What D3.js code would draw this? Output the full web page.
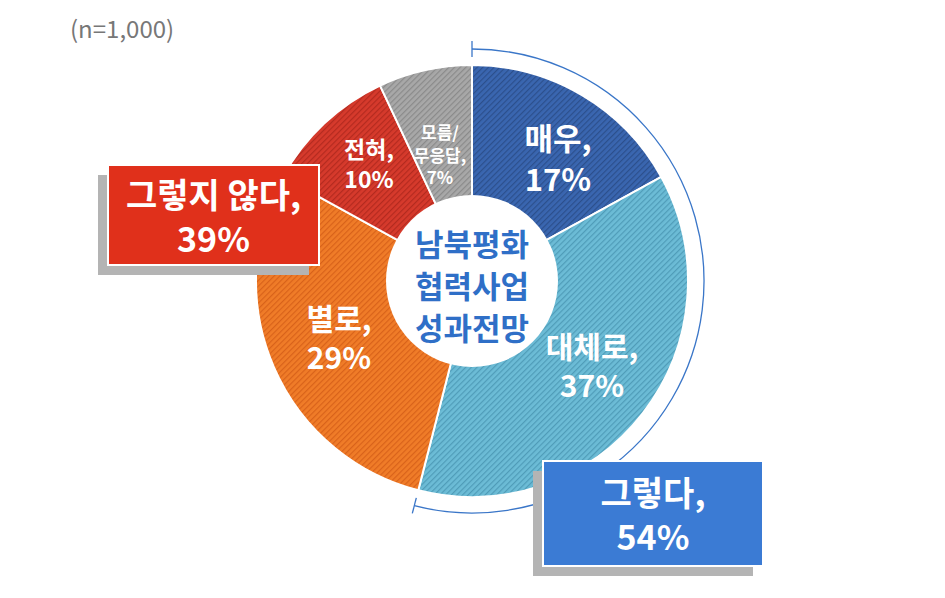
<!DOCTYPE html><html><head><meta charset="utf-8"><script src="https://cdn.jsdelivr.net/npm/d3@7"></script>
<style>body{margin:0;background:#fff}text{font-family:"Noto Sans CJK KR","Noto Sans",sans-serif}</style></head><body>
<svg id="c" width="945" height="598"></svg>
<script>
const categories=["매우","대체로","별로","전혀","모름/\n무응답"];
const values=[17,37,29,10,7];
const colors=["#3a66b0","#6cbcd6","#f07c28","#d63a2c","#a8a8a8"];
const lines=["#2c4f8c","#4f9cb8","#d8621a","#b32a1f","#8a8a8a"];
const groupLabels=["그렇다,","54%","그렇지 않다,","39%"];
const svg=d3.select("#c");
const defs=svg.append("defs");
colors.forEach((c,i)=>{const p=defs.append("pattern").attr("id","p"+i).attr("width",4).attr("height",4).attr("patternUnits","userSpaceOnUse").attr("patternTransform","rotate(45)");
p.append("rect").attr("width",4).attr("height",4).attr("fill",c);p.append("rect").attr("width",1.2).attr("height",4).attr("fill",lines[i]);});
const cx=472,cy=281,R=216;
const g=svg.append("g").attr("transform",`translate(${cx},${cy})`);
const pie=d3.pie().sort(null)(values);
const arc=d3.arc().innerRadius(0).outerRadius(R);
g.selectAll("path.s").data(pie).join("path").attr("d",arc).attr("fill",(d,i)=>`url(#p${i})`).attr("stroke","#fff").attr("stroke-width",2);
g.append("circle").attr("r",86).attr("fill","#fff");
["남북평화","협력사업","성과전망"].forEach((t,i)=>g.append("text").attr("y",-39+i*42).attr("text-anchor","middle").attr("dominant-baseline","central").attr("fill","#2f6fc7").attr("font-size",31).attr("font-weight",700).text(t));
const lp=[[86,-124],[120,83],[-133,55],[-103,-118],[-32,-127]];
const fs=[31,30,30,23,17];
pie.forEach((d,i)=>{const nm=categories[i].split("\n");const ls=nm.length>1?[nm[0],nm[1]+",",values[i]+"%"]:[nm[0]+",",values[i]+"%"];
const lh=fs[i]*1.3;ls.forEach((t,j)=>g.append("text").attr("x",lp[i][0]).attr("y",lp[i][1]+(j-(ls.length-1)/2)*lh).attr("text-anchor","middle").attr("dominant-baseline","central").attr("fill","#fff").attr("font-size",fs[i]).attr("font-weight",700).text(t));});
const a1=0,a2=(values[0]+values[1])/100*2*Math.PI,rb=232;
g.append("path").attr("d",d3.arc().innerRadius(rb).outerRadius(rb).startAngle(a1).endAngle(a2)()).attr("fill","none").attr("stroke","#3a76c8").attr("stroke-width",1.3);
[a1,a2].forEach(a=>g.append("line").attr("x1",Math.sin(a)*(rb-8)).attr("y1",-Math.cos(a)*(rb-8)).attr("x2",Math.sin(a)*(rb+8)).attr("y2",-Math.cos(a)*(rb+8)).attr("stroke","#3a76c8").attr("stroke-width",1.3));
function box(x,y,w,h,fill,t){svg.append("rect").attr("x",x-10).attr("y",y+10).attr("width",w).attr("height",h).attr("fill","#b4b4b4");
svg.append("rect").attr("x",x).attr("y",y).attr("width",w).attr("height",h).attr("fill",fill).attr("stroke","#fff").attr("stroke-width",2);
t.forEach((s,j)=>svg.append("text").attr("x",x+w/2).attr("y",y+h/2+(j-0.5)*44).attr("text-anchor","middle").attr("dominant-baseline","central").attr("fill","#fff").attr("font-size",34).attr("font-weight",700).text(s));}
box(543,461,220,105,"#3b7bd4",groupLabels.slice(0,2));
box(108,165,211,100,"#e0301b",groupLabels.slice(2,4));
svg.append("text").attr("x",70).attr("y",27).attr("dominant-baseline","central").attr("fill","#777").attr("font-size",24).text("(n=1,000)");
</script></body></html>
